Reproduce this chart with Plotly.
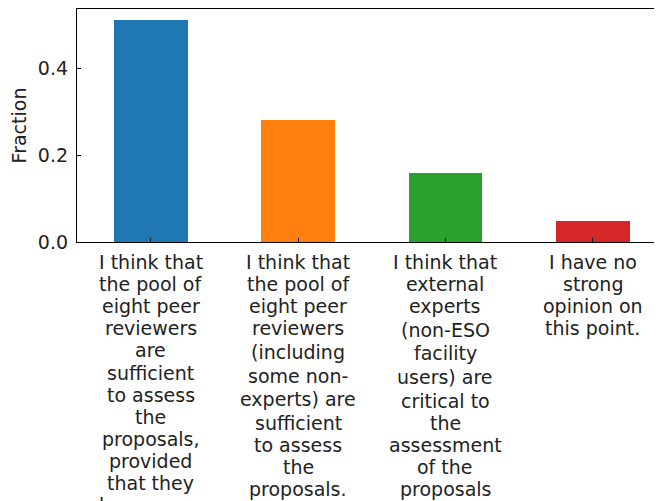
import plotly.graph_objects as go

categories = [
    "I think that<br>the pool of<br>eight peer<br>reviewers<br>are<br>sufficient<br>to assess<br>the<br>proposals,<br>provided<br>that they<br>have some<br>expertise",
    "I think that<br>the pool of<br>eight peer<br>reviewers<br>(including<br>some non-<br>experts) are<br>sufficient<br>to assess<br>the<br>proposals.",
    "I think that<br>external<br>experts<br>(non-ESO<br>facility<br>users) are<br>critical to<br>the<br>assessment<br>of the<br>proposals<br>is required.",
    "I have no<br>strong<br>opinion on<br>this point.",
]
fractions = [0.51, 0.28, 0.159, 0.048]
colors = ["#1f77b4", "#ff7f0e", "#2ca02c", "#d62728"]
y_ticks = [0.0, 0.2, 0.4]
y_tick_labels = ["0.0", "0.2", "0.4"]

FONT = "DejaVu Sans"
FSIZE = 19
TXT = "#222222"
LINE_STEP = 22.1     # px between wrapped label lines
PAREN_EXTRA = 1.5    # taller/deeper lines (with brackets) push neighbours apart
FIRST_LINE = 20      # px from axis to middle of first label line

x_pos = list(range(len(categories)))

fig = go.Figure(
    go.Bar(
        x=x_pos,
        y=fractions,
        marker=dict(color=colors, line=dict(width=0)),
        width=0.5,
    )
)

# category labels, one text per wrapped line for matplotlib-like line spacing
annotations = []
for xi, label in zip(x_pos, categories):
    offset = FIRST_LINE
    prev_tall = False
    for k, line in enumerate(label.split("<br>")):
        tall = ("(" in line) or (")" in line)
        if k > 0:
            offset += LINE_STEP + (PAREN_EXTRA if tall else 0) + (PAREN_EXTRA if prev_tall else 0)
        prev_tall = tall
        annotations.append(dict(
            x=xi, xref="x", y=0, yref="paper",
            text=line, showarrow=False,
            xanchor="center", yanchor="middle",
            yshift=-offset,
            font=dict(family=FONT, size=FSIZE, color=TXT),
        ))

fig.update_layout(
    width=662,
    height=501,
    margin=dict(l=69, r=8, t=1, b=267, autoexpand=False),
    plot_bgcolor="white",
    paper_bgcolor="white",
    showlegend=False,
    font=dict(family=FONT, size=FSIZE, color=TXT),
    bargap=0,
    annotations=annotations,
)

fig.update_xaxes(
    range=[-0.5, 3.47],
    tickmode="array",
    tickvals=x_pos,
    showticklabels=False,
    ticks="inside",
    ticklen=4,
    tickcolor="black",
    showline=True,
    linecolor="black",
    linewidth=1.3,
    mirror=True,
    showgrid=False,
    zeroline=False,
    automargin=False,
)
fig.update_yaxes(
    range=[0, 0.536],
    tickmode="array",
    tickvals=y_ticks,
    ticktext=y_tick_labels,
    ticks="inside",
    ticklen=4,
    tickcolor="black",
    ticklabelstandoff=4,
    showline=True,
    linecolor="black",
    linewidth=1.3,
    showgrid=False,
    zeroline=False,
    automargin=False,
    title=dict(text="Fraction", font=dict(family=FONT, size=FSIZE, color=TXT), standoff=6),
    tickfont=dict(family=FONT, size=FSIZE, color=TXT),
)

fig.write_html("out.html")
